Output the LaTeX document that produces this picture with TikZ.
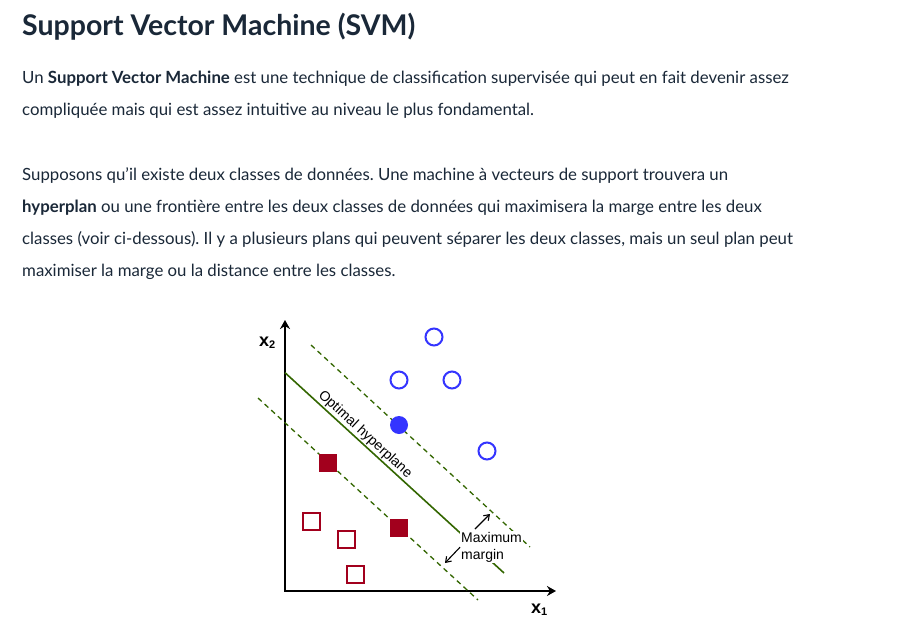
\documentclass[tikz,border=0pt]{standalone}
\usepackage{fontspec}
\setmainfont{Lato}
\newfontfamily\plotfont{Liberation Sans}
\usetikzlibrary{arrows.meta,positioning}
\frenchspacing
\definecolor{inkx}{HTML}{1A2838}
\definecolor{bluex}{HTML}{3434FF}
\definecolor{redx}{HTML}{A2001D}
\definecolor{greenx}{HTML}{336600}
\tikzset{
  ln/.style={anchor=base west,inner sep=0pt,text=inkx,font=\fontsize{16.8}{16.8}\selectfont},
  co/.style={circle,draw=bluex,line width=2pt,minimum size=17pt,inner sep=0pt},
  cf/.style={circle,fill=bluex,minimum size=18pt,inner sep=0pt},
  so/.style={draw=redx,line width=2pt,minimum size=17pt,inner sep=0pt},
  sf/.style={fill=redx,minimum size=18pt,inner sep=0pt},
  ax/.style={{Stealth[length=9pt,width=10pt]}-{Stealth[length=9pt,width=10pt]},line width=2.2pt},
  hp/.style={greenx,line width=1.6pt},
  mg/.style={greenx,line width=1.3pt,dash pattern=on 5pt off 4pt},
  ma/.style={-{Straight Barb[length=5pt,width=7pt]},line width=1.1pt},
  lb/.style={text=black,font=\plotfont\fontsize{14}{14}\selectfont,inner sep=1pt},
  axl/.style={font=\plotfont\bfseries\fontsize{18}{18}\selectfont,inner sep=0pt,anchor=base west}
}
\newcommand{\subx}[1]{{\fontsize{11}{11}\selectfont\raisebox{-2.5pt}{#1}}}

\begin{document}
\begin{tikzpicture}[x=1pt,y=-1pt]
\useasboundingbox (0,0) rectangle (897,621);
\fill[white] (0,0) rectangle (897,621);
% texte de la page
\node[ln,font=\bfseries\fontsize{28.5}{28.5}\selectfont] (titre) at (22,35) {Support Vector Machine (SVM)};
\node[ln] (p1) at (22,83) {Un \textbf{Support Vector Machine} est une technique de classification supervisée qui peut en fait devenir assez};
\node[ln] (p2) at (22,115) {compliquée mais qui est assez intuitive au niveau le plus fondamental.};
\node[ln] (p3) at (22,180) {Supposons qu’il existe deux classes de données. Une machine à vecteurs de support trouvera un};
\node[ln] (p4) at (22,212) {\textbf{hyperplan} ou une frontière entre les deux classes de données qui maximisera la marge entre les deux};
\node[ln] (p5) at (22,244) {classes (voir ci-dessous). Il y a plusieurs plans qui peuvent séparer les deux classes, mais un seul plan peut};
\node[ln] (p6) at (22,276) {maximiser la marge ou la distance entre les classes.};
% axes
\coordinate (o) at (285,591);
\coordinate (yt) at (285,320);
\coordinate (xt) at (556,591);
\draw[ax] (yt) -- (o) -- (xt);
\node[axl] (lx2) at (259,346) {x\subx{2}};
\node[axl] (lx1) at (531,613) {x\subx{1}};
% hyperplan et marges
\coordinate (h0) at (285,372.7);
\coordinate (h1) at (504,573);
\coordinate (m0) at (311,345);
\coordinate (m1) at (530,547);
\coordinate (n0) at (258,398);
\coordinate (n1) at (478,600);
\draw[mg] (m0) -- (m1);
\draw[mg] (n0) -- (n1);
\draw[hp] (h0) -- (h1) node[lb,pos=0.34,sloped,above] (hpl) {Optimal hyperplane};
% points
\foreach \n/\x/\y in {b1/434/337,b2/399/380,b3/452/380,b4/487/451}
  \node[co] (\n) at (\x,\y) {};
\node[cf] (b5) at (399,425) {};
\foreach \n/\x/\y in {r1/311/521,r2/346/539,r3/355/574}
  \node[so] (\n) at (\x,\y) {};
\foreach \n/\x/\y in {r4/328/463,r5/399/528}
  \node[sf] (\n) at (\x,\y) {};
% marge maximale
\node[lb,font=\plotfont\fontsize{14}{17}\selectfont,fill=white,align=left,anchor=north west] (mm) at (460,531) {Maximum\\margin};
\coordinate (ut) at (490,514);
\coordinate (lt) at (445,563);
\draw[ma] ([xshift=15pt,yshift=2pt]mm.north west) -- (ut);
\draw[ma] (mm.west) -- (lt);
\end{tikzpicture}
\end{document}
